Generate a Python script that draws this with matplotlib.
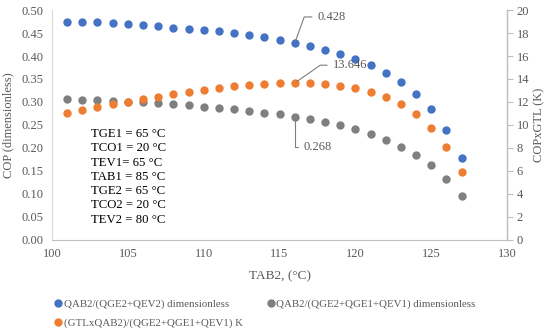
import matplotlib.pyplot as plt
import numpy as np

plt.rcParams['font.family'] = ['Liberation Serif', 'DejaVu Serif']

tab2 = np.arange(101, 128)

# QAB2/(QGE2+QEV2), dimensionless
cop_single = [0.475, 0.474, 0.473, 0.471, 0.469, 0.467, 0.465, 0.462, 0.459, 0.456,
              0.454, 0.450, 0.446, 0.441, 0.435, 0.428, 0.422, 0.414, 0.405, 0.394,
              0.380, 0.364, 0.343, 0.317, 0.285, 0.239, 0.179]
# QAB2/(QGE2+QGE1+QEV1), dimensionless
cop_total = [0.306, 0.305, 0.304, 0.303, 0.301, 0.299, 0.297, 0.296, 0.293, 0.290,
             0.287, 0.284, 0.281, 0.277, 0.273, 0.268, 0.263, 0.256, 0.249, 0.241,
             0.230, 0.217, 0.203, 0.185, 0.162, 0.133, 0.096]
# (GTLxQAB2)/(QGE2+QGE1+QEV1), K
copgtl = [11.02, 11.28, 11.54, 11.80, 12.03, 12.26, 12.46, 12.67, 12.87, 13.07,
          13.22, 13.36, 13.48, 13.57, 13.64, 13.646, 13.63, 13.57, 13.42, 13.19,
          12.90, 12.40, 11.80, 10.96, 9.77, 8.12, 5.94]

conditions = ["TGE1 = 65 °C", "TCO1 = 20 °C", "TEV1= 65 °C", "TAB1 = 85 °C",
              "TGE2 = 65 °C", "TCO2 = 20 °C", "TEV2 = 80 °C"]

blue = '#4472C4'
orange = '#ED7D31'
gray = '#7F7F7F'
txt = '#595959'

fig, ax = plt.subplots(figsize=(5.5, 3.35), dpi=100)
fig.subplots_adjust(left=0.0945, right=0.922, bottom=0.284, top=0.97)
ax2 = ax.twinx()

l1, = ax.plot(tab2, cop_single, 'o', color=blue, ms=5, zorder=3,
              label="QAB2/(QGE2+QEV2) dimensionless")
l2, = ax.plot(tab2, cop_total, 'o', color=gray, ms=5, zorder=3,
              label="QAB2/(QGE2+QGE1+QEV1) dimensionless")
l3, = ax2.plot(tab2, copgtl, 'o', color=orange, ms=5, zorder=3,
               label="(GTLxQAB2)/(QGE2+QGE1+QEV1) K")

ax.set_xlim(100, 130)
ax.set_ylim(0, 0.5)
ax.set_xticks(np.arange(100, 131, 5))
ax.set_yticks(np.arange(0, 0.501, 0.05))
ax.yaxis.set_major_formatter(plt.FormatStrFormatter('%.2f'))
ax2.set_ylim(0, 20)
ax2.set_yticks(np.arange(0, 21, 2))

for a in (ax, ax2):
    a.spines['top'].set_visible(False)
    a.tick_params(labelsize=9, colors=txt)
ax.spines['left'].set_color('#D9D9D9')
ax.spines['bottom'].set_color('#BFBFBF')
ax2.spines['left'].set_visible(False)
ax2.spines['bottom'].set_visible(False)
ax2.spines['right'].set_color('#BFBFBF')
ax.tick_params(axis='both', length=0, pad=6)
ax2.tick_params(axis='y', length=4, color='#BFBFBF', pad=3)

ax.set_ylabel("COP (dimensionless)", fontsize=9, color=txt, labelpad=5)
ax2.set_ylabel("COPxGTL (K)", fontsize=9, color=txt, labelpad=3)
ax.set_xlabel("TAB2, (°C)", fontsize=9.5, color=txt, labelpad=7)

# data callouts
i = list(tab2).index(116)
ax.annotate("0.428", xy=(tab2[i], cop_single[i]), xytext=(117.5, 0.485),
            fontsize=9, color=txt, va='center',
            arrowprops=dict(arrowstyle='-', color=gray, lw=0.8,
                            connectionstyle='angle,angleA=0,angleB=70,rad=0'))
ax2.annotate("13.646", xy=(tab2[i], copgtl[i]), xytext=(118.5, 15.2),
             fontsize=9, color=txt, va='center',
             arrowprops=dict(arrowstyle='-', color=gray, lw=0.8,
                             connectionstyle='angle,angleA=0,angleB=35,rad=0'))
ax.annotate("0.268", xy=(tab2[i], cop_total[i]), xytext=(116.6, 0.203),
            fontsize=9, color=txt, va='center',
            arrowprops=dict(arrowstyle='-', color=gray, lw=0.8,
                            connectionstyle='angle,angleA=0,angleB=90,rad=0'))

ax.text(102.6, 0.243, "\n".join(conditions), fontsize=9.2, va='top', ha='left',
        linespacing=1.25, color='black')

fig.legend(handles=[l1, l3, l2], loc='upper left', bbox_to_anchor=(0.08, 0.137),
           ncol=2, frameon=False, fontsize=7.8, handletextpad=0.1,
           markerscale=1.0, columnspacing=2.2, labelspacing=0.85,
           handlelength=0.8, labelcolor=txt)

fig.savefig('out.png', dpi=100)
